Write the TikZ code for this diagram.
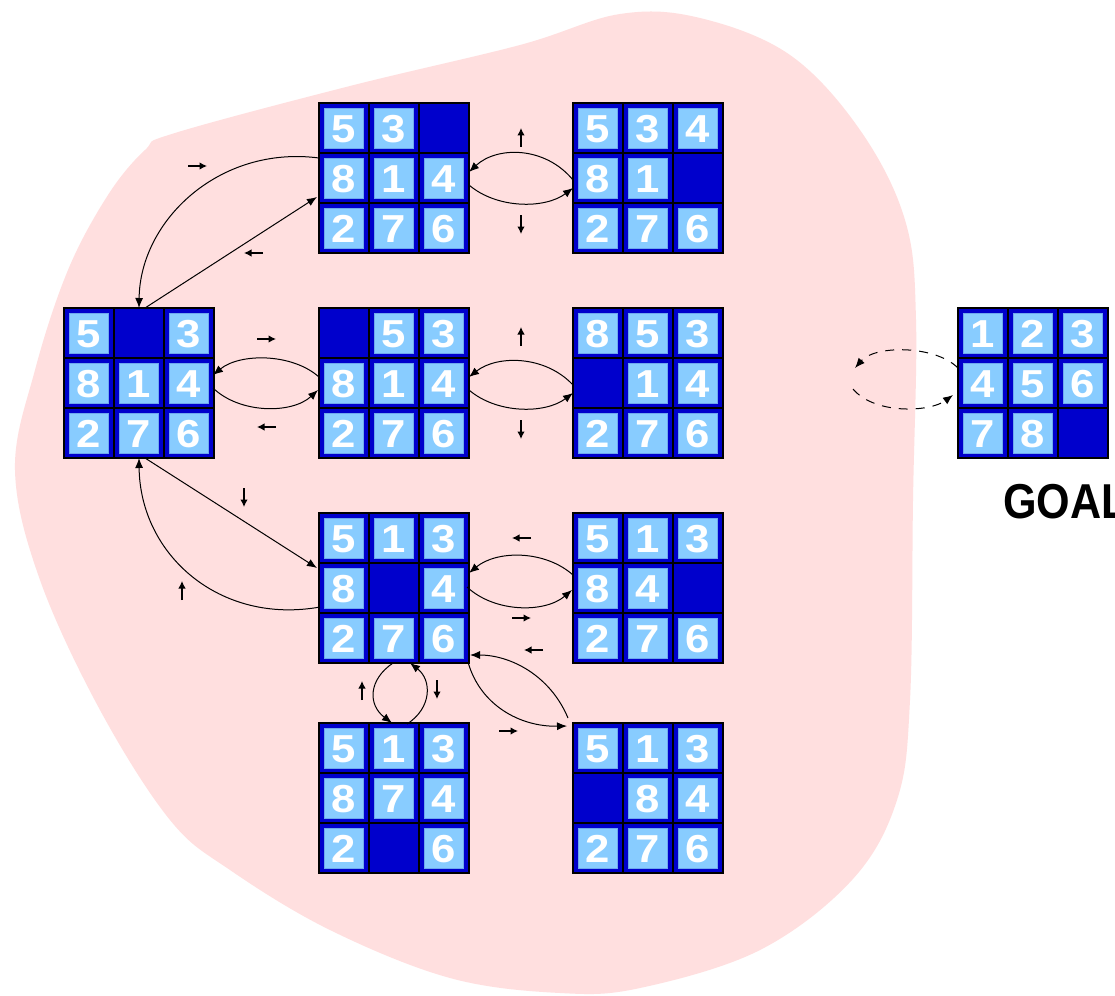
\documentclass[tikz,border=0pt]{standalone}
\usepackage{fontspec}
\usetikzlibrary{arrows.meta,calc}
\newfontfamily\heavy{Liberation Sans}

\definecolor{blob}{HTML}{FFDFDF}
\definecolor{tiledark}{HTML}{0000CC}
\definecolor{tilelight}{HTML}{88CCFF}
\definecolor{tileedge}{HTML}{6FA8EE}

\tikzset{
  gridbox/.style={rectangle, minimum size=150pt, inner sep=0pt, outer sep=0pt},
  gridline/.style={draw=black, line width=1.1pt},
  digit/.style={text=white, inner sep=0pt,
    font=\heavy\bfseries\fontsize{39}{39}\selectfont},
  link/.style={line width=1pt, -{Latex[length=10pt,width=8pt]}},
  loop/.style={line width=1pt, dash pattern=on 9pt off 8pt, -{Latex[length=10pt,width=8pt]}},
  move/.style={line width=1.2pt, -{Latex[length=7.5pt,width=7.5pt]}},
}

% one 3x3 board: name, centre x, centre y, nine tiles row by row (0 = blank)
\newcommand\puzzle[4]{%
  \node[gridbox] (#1) at (#2,#3) {};
  \foreach \d [count=\k from 0] in {#4} {%
    \pgfmathtruncatemacro\tcol{mod(\k,3)}%
    \pgfmathtruncatemacro\trow{div(\k,3)}%
    \coordinate (cc) at ({#2+(\tcol-1)*50},{#3+(\trow-1)*50});
    \fill[tiledark] ($(cc)+(-25,-25)$) rectangle ($(cc)+(25,25)$);
    \ifnum\d>0
      \filldraw[fill=tilelight, draw=tileedge, line width=0.8pt]
        ($(cc)+(-19.5,-19.5)$) rectangle ($(cc)+(19.5,20)$);
      \node[digit] at ($(cc)+(0,1)$) {\scalebox{1.12}[1]{\d}};
    \fi
    \draw[gridline] ($(cc)+(-25,-25)$) rectangle ($(cc)+(25,25)$);
  }%
}

\begin{document}
\begin{tikzpicture}[x=1pt, y=-1pt]
\useasboundingbox (0,0) rectangle (1115,995);
\clip (0,0) rectangle (1115,995);
\fill[white] (0,0) rectangle (1115,995);

% the reachable region
\fill[blob] plot[smooth cycle, tension=0.6] coordinates {
  (175,133) (350,86) (520,45) (620,14) (700,18) (790,55) (860,130)
  (905,220) (916,320) (913,500) (910,700) (897,800) (852,880)
  (760,950) (640,988) (560,993) (450,978) (330,930) (230,870)
  (170,820) (100,710) (40,580) (15,470) (35,370) (68,270) (108,195) (145,150)};

% boards
\puzzle{A}{394}{178}{5,3,0,8,1,4,2,7,6}
\puzzle{B}{648}{178}{5,3,4,8,1,0,2,7,6}
\puzzle{C}{139}{383}{5,0,3,8,1,4,2,7,6}
\puzzle{D}{394}{383}{0,5,3,8,1,4,2,7,6}
\puzzle{E}{648}{383}{8,5,3,0,1,4,2,7,6}
\puzzle{F}{394}{588}{5,1,3,8,0,4,2,7,6}
\puzzle{G}{648}{588}{5,1,3,8,4,0,2,7,6}
\puzzle{H}{394}{798}{5,1,3,8,7,4,2,0,6}
\puzzle{I}{648}{798}{5,1,3,0,8,4,2,7,6}
\puzzle{goal}{1033}{383}{1,2,3,4,5,6,7,8,0}

\node[anchor=base west, inner sep=0pt, font=\heavy\bfseries\fontsize{49}{49}\selectfont]
  (goaltext) at (1003,518) {\scalebox{0.88}[1]{GOAL}};

% moves between boards
\draw[link] ($(B.west)+(0,2)$) .. controls (545,146) and (497,146) .. ($(A.east)+(0,-6)$);
\draw[link] ($(A.east)+(0,7)$) .. controls (497,209) and (545,209) .. ($(B.west)+(0,10)$);

\draw[link] ($(A.west)+(0,-20)$) .. controls (220,145) and (140,220) .. (C.north);
\draw[link] ($(C.north)+(6,0)$) -- ($(A.west)+(-2,19)$);

\draw[link] ($(D.west)+(0,-6)$) .. controls (292,353) and (240,353) .. ($(C.east)+(-1,-8)$);
\draw[link] ($(C.east)+(-1,5)$) .. controls (240,414) and (292,414) .. ($(D.west)+(-1,7)$);

\draw[link] ($(E.west)+(0,2)$) .. controls (545,355) and (497,355) .. ($(D.east)+(0,-6)$);
\draw[link] ($(D.east)+(0,7)$) .. controls (497,414) and (545,414) .. ($(E.west)+(0,10)$);

\draw[link] ($(C.south)+(6,0)$) -- ($(F.west)+(-2,-20)$);
\draw[link] ($(F.west)+(1,19)$) .. controls (220,625) and (140,555) .. (C.south);

\draw[link] ($(G.west)+(0,-13)$) .. controls (545,550) and (497,550) .. ($(F.east)+(0,-15)$);
\draw[link] ($(F.east)+(-2,-1)$) .. controls (495,613) and (545,613) .. ($(G.west)+(-1,2)$);

\draw[link] ($(F.south)+(-1,0)$) .. controls (368,680) and (368,705) .. ($(H.north)+(-2,0)$);
\draw[link] ($(H.north)+(13,1)$) .. controls (432,708) and (432,680) .. ($(F.south)+(16,0)$);

\draw[link] ($(I.north west)+(-5,-5)$) .. controls (550,675) and (510,655) .. ($(F.south east)+(1,-8)$);
\draw[link] ($(F.south east)+(-1,-1)$) .. controls (480,705) and (520,727) .. ($(I.north west)+(-6,3)$);

% the goal is not reached from here
\draw[loop] (853,389) .. controls (875,415) and (930,412) .. ($(goal.west)+(-5,12)$);
\draw[loop] ($(goal.west)+(0,-15)$) .. controls (935,345) and (875,345) .. (855,368);

% blank-tile directions
\draw[move] (521,147) -- ++(0,-19);
\draw[move] (521,215) -- ++(0,19);
\draw[move] (188,166) -- ++(19,0);
\draw[move] (263,253) -- ++(-19,0);
\draw[move] (257,339) -- ++(19,0);
\draw[move] (276,427) -- ++(-19,0);
\draw[move] (521,346) -- ++(0,-19);
\draw[move] (521,420) -- ++(0,19);
\draw[move] (244,488) -- ++(0,19);
\draw[move] (182,600) -- ++(0,-19);
\draw[move] (531,538) -- ++(-19,0);
\draw[move] (512,618) -- ++(19,0);
\draw[move] (362,700) -- ++(0,-19);
\draw[move] (437,680) -- ++(0,19);
\draw[move] (543,650) -- ++(-19,0);
\draw[move] (499,731) -- ++(19,0);
\end{tikzpicture}
\end{document}
